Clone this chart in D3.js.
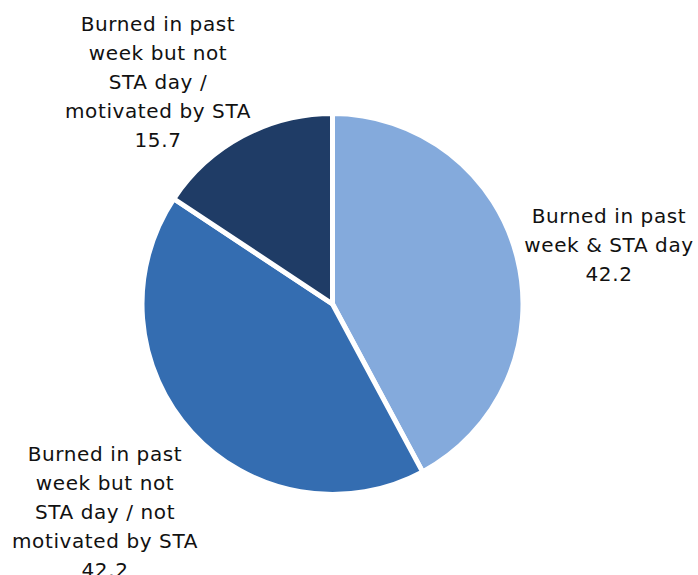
<!DOCTYPE html>
<html>
<head>
<meta charset="utf-8">
<script src="https://cdn.jsdelivr.net/npm/d3@7"></script>
<style>
  html, body { margin: 0; padding: 0; background: #ffffff; }
  svg { display: block; }
</style>
</head>
<body>
<svg id="chart" width="698" height="575"></svg>
<script>
const categories = [
  "Burned in past week & STA day",
  "Burned in past week but not STA day / not motivated by STA",
  "Burned in past week but not STA day / motivated by STA"
];
const values = [42.2, 42.2, 15.7];
const labelLines = [
  ["Burned in past", "week & STA day"],
  ["Burned in past", "week but not", "STA day / not", "motivated by STA"],
  ["Burned in past", "week but not", "STA day /", "motivated by STA"]
];
const colors = ["#84aadc", "#346db1", "#1f3c66"];

// layout
const W = 698, H = 575;
const cx = 332.5, cy = 304, R = 190.5;
const lineH = 29;
// label anchor: x center, baseline of first line
const labelPos = [
  { x: 609, y: 223 },
  { x: 105, y: 461 },
  { x: 158, y: 31 }
];

const svg = d3.select("#chart");
const data = categories.map((c, i) => ({ cat: c, value: values[i], lines: labelLines[i], i }));

const pie = d3.pie().value(d => d.value).sort(null);
const arc = d3.arc().innerRadius(0).outerRadius(R);

const g = svg.append("g").attr("transform", `translate(${cx},${cy})`);
g.selectAll("path")
  .data(pie(data))
  .join("path")
  .attr("d", arc)
  .attr("fill", d => colors[d.data.i])
  .attr("stroke", "#ffffff")
  .attr("stroke-width", 5)
  .attr("stroke-linejoin", "round");

const fmt = d3.format(".1f");
const labels = svg.append("g")
  .attr("font-family", "'DejaVu Sans', Verdana, sans-serif")
  .attr("font-size", 20)
  .attr("letter-spacing", 0.6)
  .attr("fill", "#111111")
  .attr("text-anchor", "middle");

data.forEach((d, i) => {
  const t = labels.append("text")
    .attr("x", labelPos[i].x)
    .attr("y", labelPos[i].y);
  d.lines.concat([fmt(d.value)]).forEach((line, k) => {
    t.append("tspan")
      .attr("x", labelPos[i].x)
      .attr("dy", k === 0 ? 0 : lineH)
      .text(line);
  });
});
</script>
</body>
</html>
